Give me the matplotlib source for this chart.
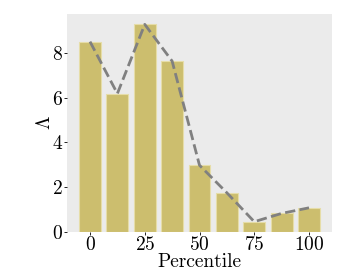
import matplotlib
matplotlib.use("Agg")
import matplotlib.pyplot as plt

plt.rcParams["font.family"] = "cmr10"
plt.rcParams["mathtext.fontset"] = "cm"
plt.rcParams["axes.formatter.use_mathtext"] = True

percentiles = [0, 12.5, 25, 37.5, 50, 62.5, 75, 87.5, 100]
lam = [8.5, 6.18, 9.27, 7.63, 2.98, 1.75, 0.46, 0.83, 1.08]
xticks = [0, 25, 50, 75, 100]

fig = plt.figure(figsize=(3.49, 2.79), dpi=100)
ax = fig.add_axes([67 / 349, 1 - 232 / 279, 265 / 349, 218 / 279])
ax.set_facecolor("#EBEBEB")
ax.bar(percentiles, lam, width=10, color="#CCBE6E", edgecolor="#E6DDA8", linewidth=0.8, zorder=2)
ax.plot(percentiles, lam, linestyle="--", color="#808080", linewidth=2, zorder=3)
for s in ax.spines.values():
    s.set_visible(False)
ax.set_xticks(xticks)
ax.set_yticks([0, 2, 4, 6, 8])
ax.tick_params(labelsize=14, length=2, width=0.6, pad=1)
ax.set_xlabel("Percentile", fontsize=14, labelpad=-1)
ax.set_ylabel(r"$\Lambda$", fontsize=14, labelpad=-2)

fig.savefig("out.png", dpi=100)
